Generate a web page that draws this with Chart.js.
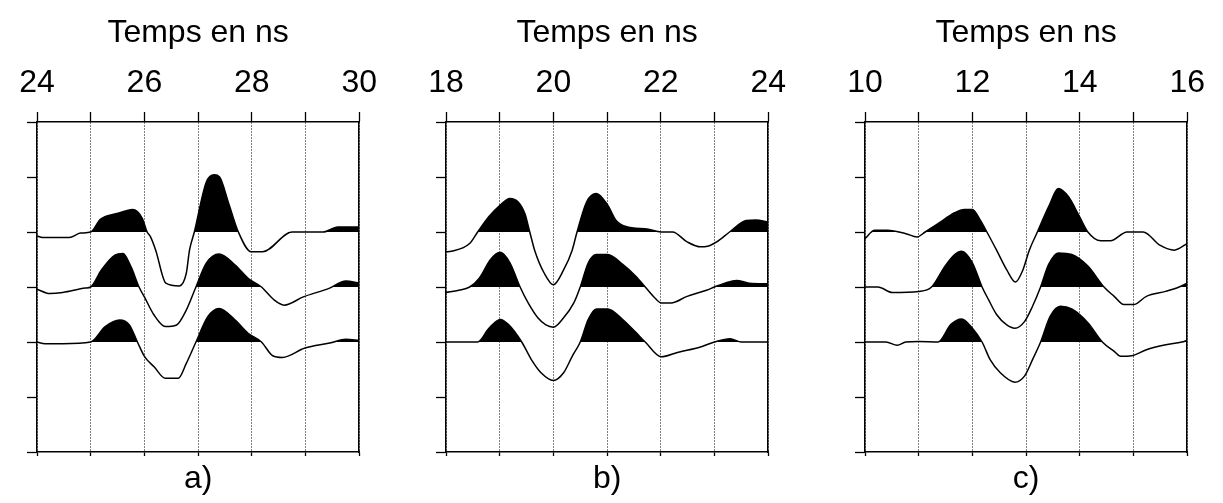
<!DOCTYPE html>
<html>
<head>
<meta charset="utf-8">
<script src="https://cdn.jsdelivr.net/npm/chart.js@4"></script>
<style>
  html, body { margin: 0; padding: 0; background: #fff; overflow: hidden; }
  canvas { position: absolute; top: 0; }
</style>
</head>
<body>
<canvas id="panelA" width="390" height="503" style="left:0px"></canvas>
<canvas id="panelB" width="390" height="503" style="left:409px"></canvas>
<canvas id="panelC" width="390" height="503" style="left:828px"></canvas>
<script>
// ==================== DATA ====================

// time windows (ns) and which ticks get a label
const rangeA = [24, 30];
const rangeB = [18, 24];
const rangeC = [10, 16];
const labelsA = [24, 26, 28, 30];
const labelsB = [18, 20, 22, 24];
const labelsC = [10, 12, 14, 16];
const panelLetters = ['a)', 'b)', 'c)'];
const axisTitle = 'Temps en ns';

// trace baselines on the vertical axis (0..6), top trace first
const baselines = [4, 3, 2];

// traces: [time in ns, amplitude]
const traceA1 = [[24.0,-0.07],[24.1,-0.1],[24.6,-0.1],[24.81,-0.02],[25.0,0],[25.18,0.23],[25.51,0.34],[25.78,0.41],[25.96,0.25],[26.05,0],[26.11,-0.08],[26.21,-0.33],[26.4,-0.93],[26.65,-0.98],[26.78,-0.75],[26.84,-0.33],[26.93,0],[27.15,0.9],[27.3,1.04],[27.4,1.0],[27.57,0.52],[27.75,0],[27.99,-0.36],[28.2,-0.36],[28.75,0],[29.33,0],[29.6,0.09],[30,0.09]];
const traceA2 = [[24.0,-0.04],[24.24,-0.12],[24.48,-0.1],[24.9,-0.02],[25.0,0],[25.2,0.31],[25.45,0.58],[25.6,0.61],[25.75,0.37],[25.9,0],[26.0,-0.18],[26.18,-0.51],[26.39,-0.72],[26.6,-0.69],[26.78,-0.42],[26.96,0],[27.15,0.43],[27.39,0.6],[27.69,0.4],[27.93,0.16],[28.18,0],[28.42,-0.24],[28.6,-0.33],[28.96,-0.18],[29.45,-0.02],[29.75,0.11],[30,0.07]];
const traceA3 = [[24.0,0],[24.15,-0.03],[24.48,-0.03],[25.0,0],[25.27,0.28],[25.54,0.4],[25.72,0.31],[25.87,0],[26.0,-0.26],[26.18,-0.45],[26.39,-0.66],[26.63,-0.66],[26.78,-0.39],[26.96,0],[27.18,0.46],[27.39,0.61],[27.69,0.4],[27.93,0.16],[28.18,0],[28.39,-0.25],[28.57,-0.28],[28.99,-0.11],[29.45,-0.02],[29.75,0.05],[30,0.03]];

const traceB1 = [[18.0,-0.36],[18.1,-0.35],[18.44,-0.21],[18.59,0],[18.8,0.28],[19.01,0.49],[19.19,0.61],[19.34,0.55],[19.47,0.33],[19.56,0],[19.65,-0.33],[19.83,-0.75],[20.0,-0.96],[20.19,-0.69],[20.35,-0.33],[20.44,0],[20.62,0.55],[20.8,0.7],[21.01,0.49],[21.16,0.22],[21.35,0.1],[21.77,0.05],[22.0,0],[22.22,0],[22.49,-0.18],[22.74,-0.27],[22.87,-0.26],[23.04,-0.18],[23.28,0],[23.59,0.21],[23.77,0.22],[24,0.18]];
const traceB2 = [[18.0,-0.1],[18.24,-0.06],[18.44,0],[18.62,0.16],[18.83,0.5],[19.01,0.63],[19.19,0.44],[19.38,0],[19.53,-0.29],[19.71,-0.56],[19.86,-0.69],[20.0,-0.73],[20.19,-0.56],[20.38,-0.29],[20.5,0],[20.65,0.44],[20.8,0.59],[21.01,0.59],[21.29,0.41],[21.53,0.2],[21.71,0],[21.89,-0.2],[22.01,-0.29],[22.19,-0.29],[22.49,-0.17],[22.85,-0.06],[23.0,0],[23.19,0.07],[23.41,0.12],[23.65,0.07],[24,0.06]];
const traceB3 = [[18.0,0],[18.59,0],[18.8,0.25],[19.01,0.41],[19.16,0.32],[19.41,0],[19.59,-0.32],[19.77,-0.56],[20.0,-0.7],[20.19,-0.56],[20.35,-0.26],[20.5,0],[20.65,0.41],[20.8,0.6],[21.01,0.6],[21.29,0.41],[21.53,0.18],[21.71,0],[22.01,-0.27],[22.31,-0.19],[22.74,-0.09],[23.0,0],[23.29,0.06],[23.5,0],[24,0]];

const traceC1 = [[10.0,-0.12],[10.18,0.03],[10.42,0.03],[10.76,-0.03],[10.97,-0.09],[11.12,0],[11.36,0.15],[11.67,0.35],[11.85,0.41],[12.0,0.41],[12.15,0.21],[12.27,0],[12.45,-0.33],[12.64,-0.69],[12.8,-0.91],[12.94,-0.69],[13.06,-0.33],[13.21,0],[13.42,0.46],[13.6,0.79],[13.79,0.64],[14.0,0.27],[14.15,0],[14.39,-0.16],[14.57,-0.16],[14.88,0],[15.18,0],[15.49,-0.24],[15.76,-0.33],[16.0,-0.21]];
const traceC2 = [[10.0,0],[10.24,0],[10.51,-0.1],[11.0,-0.08],[11.24,0],[11.49,0.38],[11.67,0.59],[11.8,0.65],[12.0,0.44],[12.18,0],[12.3,-0.23],[12.45,-0.5],[12.64,-0.69],[12.79,-0.75],[12.97,-0.63],[13.12,-0.35],[13.27,0],[13.42,0.41],[13.6,0.62],[13.85,0.59],[14.15,0.38],[14.45,0],[14.64,-0.17],[14.82,-0.32],[15.0,-0.32],[15.24,-0.17],[15.6,-0.08],[15.85,0],[16.0,0.07]];
const traceC3 = [[10.0,0],[10.39,0],[10.6,-0.06],[10.76,0],[11.0,0.01],[11.36,0],[11.6,0.32],[11.8,0.42],[12.0,0.25],[12.18,0],[12.33,-0.32],[12.52,-0.56],[12.79,-0.73],[12.97,-0.62],[13.12,-0.32],[13.27,0],[13.45,0.47],[13.64,0.65],[13.85,0.6],[14.15,0.35],[14.42,0],[14.64,-0.17],[14.76,-0.26],[14.97,-0.25],[15.24,-0.14],[15.6,-0.05],[15.9,0],[16,0.03]];

// ==================== CHART ====================

const bigFont = {
    family: "'Liberation Sans', Arial, sans-serif",
    size: 32,
    lineHeight: 1
};

function createTracePanel(canvasId, range, labelled, traces, letter) {
    const ctx = document.getElementById(canvasId)?.getContext('2d');
    if (!ctx) return null;

    return new Chart(ctx, {
        type: 'line',
        data: {
            datasets: traces.map((tr, i) => ({
                data: tr.map(p => ({ x: p[0], y: baselines[i] + p[1] })),
                borderColor: '#000',
                borderWidth: 1.5,
                pointRadius: 0,
                cubicInterpolationMode: 'monotone',
                fill: { target: { value: baselines[i] }, above: '#000', below: 'rgba(0,0,0,0)' }
            }))
        },
        options: {
            responsive: false,
            animation: false,
            layout: { padding: 0 },
            plugins: {
                legend: { display: false },
                tooltip: { enabled: false }
            },
            scales: {
                x: {
                    type: 'linear',
                    position: 'top',
                    min: range[0],
                    max: range[1],
                    ticks: {
                        stepSize: 1,
                        autoSkip: false,
                        maxRotation: 0,
                        padding: 13,
                        color: '#000',
                        font: bigFont,
                        callback: v => labelled.includes(v) ? String(v) : ''
                    },
                    grid: { color: '#000', lineWidth: 1, tickLength: 10, tickWidth: 1.3, tickBorderDash: [] },
                    border: { display: true, color: '#000', width: 1.5, dash: [1, 2] },
                    title: { display: true, text: axisTitle, color: '#000', font: bigFont, padding: { top: 17, bottom: 0 } },
                    afterFit: s => { s.height = 122; }
                },
                xb: {
                    type: 'linear',
                    position: 'bottom',
                    min: range[0],
                    max: range[1],
                    ticks: { stepSize: 1, display: false },
                    grid: { color: '#000', drawOnChartArea: false, tickLength: 4, tickWidth: 1.3 },
                    border: { display: true, color: '#000', width: 1.5 },
                    title: { display: true, text: letter, color: '#000', font: bigFont, padding: { top: 0, bottom: 8 } },
                    afterFit: s => { s.height = 51; }
                },
                y: {
                    position: 'left',
                    min: 0,
                    max: 6,
                    ticks: { stepSize: 1, display: false },
                    grid: { color: '#000', drawOnChartArea: false, tickLength: 10, tickWidth: 1.3 },
                    border: { display: true, color: '#000', width: 1.5 },
                    afterFit: s => { s.width = 37; }
                },
                yr: {
                    position: 'right',
                    min: 0,
                    max: 6,
                    ticks: { display: false },
                    grid: { display: false },
                    border: { display: true, color: '#000', width: 1.5 },
                    afterFit: s => { s.width = 23; }
                }
            }
        }
    });
}

createTracePanel('panelA', rangeA, labelsA, [traceA1, traceA2, traceA3], panelLetters[0]);
createTracePanel('panelB', rangeB, labelsB, [traceB1, traceB2, traceB3], panelLetters[1]);
createTracePanel('panelC', rangeC, labelsC, [traceC1, traceC2, traceC3], panelLetters[2]);
</script>
</body>
</html>
